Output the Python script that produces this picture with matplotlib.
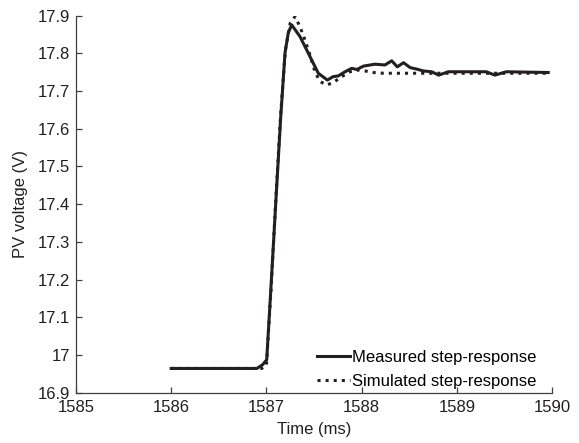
import matplotlib
matplotlib.use("Agg")
import matplotlib.pyplot as plt

plt.rcParams['font.family'] = ['Liberation Sans', 'DejaVu Sans']

# measured step-response
t_meas = [1586.0, 1586.9, 1586.96, 1587.003, 1587.05, 1587.108, 1587.15, 1587.195,
          1587.23, 1587.266, 1587.353, 1587.458, 1587.545, 1587.64, 1587.70, 1587.755,
          1587.826, 1587.896, 1587.95, 1588.02, 1588.14, 1588.245, 1588.316, 1588.375,
          1588.44, 1588.51, 1588.58, 1588.65, 1588.736, 1588.81, 1588.91, 1589.17,
          1589.31, 1589.40, 1589.52, 1589.73, 1589.96]
v_meas = [16.965, 16.965, 16.975, 16.988, 17.19, 17.447, 17.63, 17.80,
          17.855, 17.875, 17.844, 17.791, 17.747, 17.729, 17.738, 17.740,
          17.751, 17.760, 17.757, 17.766, 17.771, 17.769, 17.780, 17.764,
          17.775, 17.762, 17.758, 17.753, 17.751, 17.742, 17.751, 17.751,
          17.751, 17.742, 17.751, 17.750, 17.749]

# simulated step-response
t_sim = [1586.0, 1586.95, 1587.0, 1587.05, 1587.1, 1587.15, 1587.2, 1587.25,
         1587.30, 1587.353, 1587.405, 1587.458, 1587.51, 1587.563, 1587.633,
         1587.70, 1587.79, 1587.878, 1587.98, 1588.12, 1588.23, 1589.96]
v_sim = [16.965, 16.965, 16.972, 17.18, 17.42, 17.64, 17.81, 17.88,
         17.897, 17.870, 17.835, 17.795, 17.751, 17.725, 17.716,
         17.722, 17.738, 17.751, 17.756, 17.749, 17.747, 17.747]

y_ticks = [16.9, 17.0, 17.1, 17.2, 17.3, 17.4, 17.5, 17.6, 17.7, 17.8, 17.9]
y_labels = ["16.9", "17", "17.1", "17.2", "17.3", "17.4", "17.5", "17.6", "17.7", "17.8", "17.9"]
x_ticks = [1585, 1586, 1587, 1588, 1589, 1590]

fig = plt.figure(figsize=(5.79, 4.43), dpi=100)
ax = fig.add_axes([0.1313, 0.1129, 0.8221, 0.8521])

ink = '#231f20'
ax.plot(t_meas, v_meas, color=ink, lw=2.2, label='Measured step-response')
ax.plot(t_sim, v_sim, color=ink, lw=2.2, linestyle=':', label='Simulated step-response')

ax.set_xlim(1585, 1590)
ax.set_ylim(16.9, 17.9)
ax.set_xticks(x_ticks)
ax.set_xticklabels([str(x) for x in x_ticks])
ax.set_yticks(y_ticks)
ax.set_yticklabels(y_labels)

for s in ['top', 'right']:
    ax.spines[s].set_visible(False)
for s in ['left', 'bottom']:
    ax.spines[s].set_color('#404040')
    ax.spines[s].set_linewidth(0.9)
ax.tick_params(direction='in', length=4, width=0.9, color='#404040',
               labelsize=12, labelcolor=ink, pad=4)
ax.tick_params(axis='x', pad=5)

ax.set_xlabel('Time (ms)', fontsize=12, color=ink, labelpad=5)
ax.set_ylabel('PV voltage (V)', fontsize=12, color=ink, labelpad=7)

ax.legend(loc='lower right', frameon=False, fontsize=12, handlelength=2.0,
          handletextpad=0.1, borderaxespad=0.0, borderpad=0.25, labelspacing=0.55,
          bbox_to_anchor=(0.975, 0.0))

fig.savefig('out.png', dpi=100)
